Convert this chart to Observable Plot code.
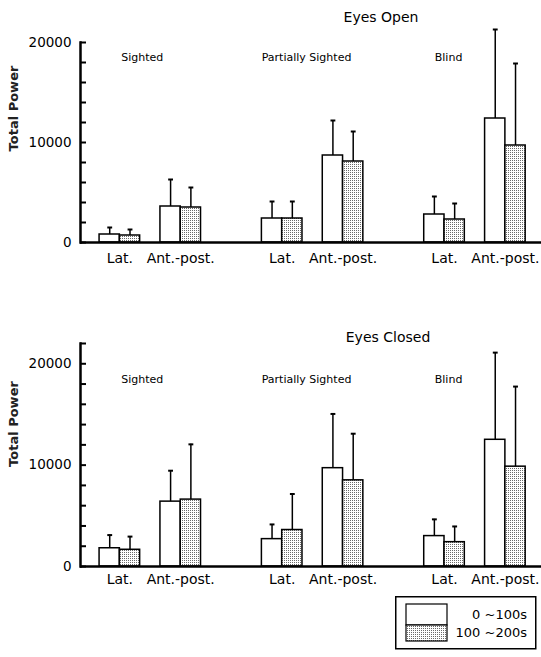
<!DOCTYPE html>
<html>
<head>
<meta charset="utf-8">
<script src="https://cdn.jsdelivr.net/npm/d3@7"></script>
<script src="https://cdn.jsdelivr.net/npm/@observablehq/plot@0.6"></script>
<style>
  body { margin: 0; background: #fff; font-family: "DejaVu Sans", sans-serif; }
  #wrap { position: relative; width: 541px; height: 657px; }
  #top { position: absolute; left: 0; top: 0; }
  #bottom { position: absolute; left: 0; top: 300px; }
  #legend { position: absolute; left: 395px; top: 596px; }
</style>
</head>
<body>
<svg width="0" height="0" style="position:absolute">
  <defs>
    <pattern id="dots" width="2" height="2" patternUnits="userSpaceOnUse">
      <rect width="2" height="2" fill="#fff"/>
      <rect width="1" height="1" fill="#6a6a6a"/>
    </pattern>
  </defs>
</svg>
<div id="wrap">
  <div id="top"></div>
  <div id="bottom"></div>
  <div id="legend"></div>
</div>
<script>
// ---- data ----
const groups = ["Sighted", "Partially Sighted", "Blind"];
const measures = ["Lat.", "Ant.-post."];
const periods = ["0 ~100s", "100 ~200s"];
const conditions = ["Eyes Open", "Eyes Closed"];
// order: group -> measure -> period
const openMean   = [800, 700, 3600, 3500, 2400, 2400, 8700, 8100, 2800, 2300, 12400, 9700];
const openSD     = [700, 600, 2700, 2000, 1700, 1700, 3500, 3000, 1800, 1600, 8900, 8200];
const closedMean = [1800, 1650, 6400, 6600, 2700, 3600, 9700, 8500, 3000, 2400, 12500, 9850];
const closedSD   = [1300, 1300, 3050, 5450, 1450, 3550, 5350, 4600, 1650, 1550, 8600, 7900];
const yTicksLabelled = [0, 10000, 20000];

// ---- layout helpers ----
const FONT = "DejaVu Sans, sans-serif";
const XMIN = -0.94, XMAX = 21.78;
const slot = (g, m, p) => g * 8 + m * 3 + p;        // bar slot index (units)
const groupLabelOffset = [2.1, 2.2, 1.2];

function rowsFor(means, sds) {
  return means.map((v, i) => {
    const g = Math.floor(i / 4), m = Math.floor(i / 2) % 2, p = i % 2;
    const x1 = slot(g, m, p);
    return {group: groups[g], measure: measures[m], period: periods[p], g, m, p,
            x1, x2: x1 + 1, xc: x1 + 0.5, mean: v, upper: v + sds[i]};
  });
}

function panel(title, means, sds, opts) {
  const rows = rowsFor(means, sds);
  const cats = [];
  groups.forEach((_, g) => measures.forEach((lab, m) => cats.push({x: slot(g, m, 0) + 1, label: lab})));
  const glabs = groups.map((name, g) => ({x: g * 8 + groupLabelOffset[g], label: name}));
  const minor = d3.range(0, opts.ymax + 1, 2000);
  return Plot.plot({
    width: 541,
    height: opts.height,
    marginLeft: 80,
    marginRight: 0,
    marginTop: opts.marginTop,
    marginBottom: opts.marginBottom,
    style: {fontFamily: FONT, color: "#000", background: "white", overflow: "visible"},
    x: {domain: [XMIN, XMAX], axis: null},
    y: {domain: [0, opts.ymax], axis: null},
    marks: [
      Plot.rectY(rows.filter(d => d.p === 0), {x1: "x1", x2: "x2", y1: 0, y2: "mean", fill: "white", stroke: "black", strokeWidth: 1.5}),
      Plot.rectY(rows.filter(d => d.p === 1), {x1: "x1", x2: "x2", y1: 0, y2: "mean", fill: "url(#dots)", stroke: "black", strokeWidth: 1.5}),
      Plot.ruleX(rows, {x: "xc", y1: "mean", y2: "upper", stroke: "black", strokeWidth: 1.5}),
      Plot.link(rows, {x1: d => d.xc - 0.12, x2: d => d.xc + 0.12, y1: "upper", y2: "upper", stroke: "black", strokeWidth: 2}),
      Plot.ruleY([0], {stroke: "black", strokeWidth: 2.5}),
      Plot.frame({anchor: "left", stroke: "black", strokeWidth: 2.5}),
      Plot.axisY({ticks: minor, tickSize: 6, dx: 6, tickFormat: () => "", stroke: "black", strokeWidth: 2, label: null}),
      Plot.axisY({ticks: yTicksLabelled, tickSize: 0, tickPadding: 9, fontSize: 13.5, tickFormat: d3.format("d"), label: null}),
      Plot.text(["Total Power"], {frameAnchor: "left", textAnchor: "middle", rotate: -90, dx: -67, dy: opts.labelDy, fontSize: 13, fontWeight: "bold", fill: "#222"}),
      Plot.text(cats, {x: "x", y: 0, text: "label", dy: opts.catDy, fontSize: 14, fill: "black"}),
      Plot.text(glabs, {x: "x", y: 18500, text: "label", fontSize: 11, fill: "black", style: "letter-spacing:0.5px"}),
      Plot.text([title], {frameAnchor: "top", textAnchor: "middle", dx: opts.titleDx, dy: opts.titleDy, fontSize: 14, fill: "black"})
    ]
  });
}

document.getElementById("top").append(
  panel(conditions[0], openMean, openSD, {height: 300, marginTop: 42, marginBottom: 58, ymax: 20000, labelDy: -34, catDy: 16, titleDx: 70, titleDy: -30})
);
document.getElementById("bottom").append(
  panel(conditions[1], closedMean, closedSD, {height: 290, marginTop: 43, marginBottom: 24, ymax: 22000, labelDy: -31, catDy: 13, titleDx: 77, titleDy: -11})
);

// ---- legend ----
const legend = d3.create("svg").attr("width", 142).attr("height", 54)
  .style("font-family", FONT).style("overflow", "visible");
legend.append("rect").attr("x", 0.75).attr("y", 0.75).attr("width", 140).attr("height", 52)
  .attr("fill", "white").attr("stroke", "black").attr("stroke-width", 1.5);
const fills = ["white", "url(#dots)"];
periods.forEach((p, i) => {
  legend.append("rect").attr("x", 11).attr("y", i === 0 ? 8 : 29).attr("width", 41).attr("height", i === 0 ? 21 : 16)
    .attr("fill", fills[i]).attr("stroke", "black").attr("stroke-width", 1.2);
  legend.append("text").attr("x", 132).attr("y", i === 0 ? 19 : 37).attr("text-anchor", "end")
    .attr("dominant-baseline", "middle").attr("font-size", 13).text(p);
});
document.getElementById("legend").append(legend.node());
</script>
</body>
</html>
